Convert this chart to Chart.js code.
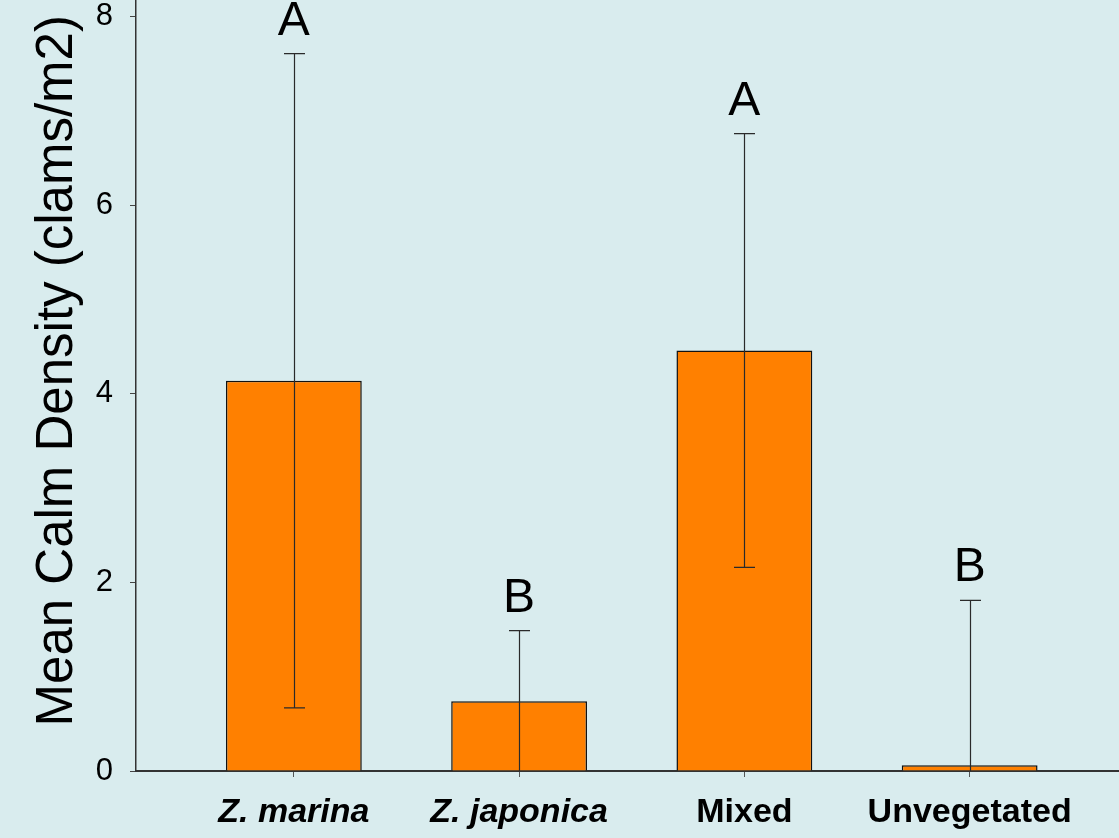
<!DOCTYPE html>
<html>
<head>
<meta charset="utf-8">
<title>Mean Calm Density</title>
<script src="https://cdn.jsdelivr.net/npm/chart.js@4/dist/chart.umd.min.js"></script>
<style>
  html, body { margin: 0; padding: 0; background: #d9ecee; overflow: hidden; }
  #wrap { width: 1119px; height: 838px; overflow: hidden; position: relative; }
  #chart { position: absolute; left: 0; top: -17px; }
</style>
</head>
<body>
<div id="wrap"><canvas id="chart" width="1119" height="855"></canvas></div>
<script>
// Habitat types along the x axis
const categories = ['Z. marina', 'Z. japonica', 'Mixed', 'Unvegetated'];
// Mean clam density per habitat (clams/m2)
const means = [4.14, 0.74, 4.46, 0.06];
// Error (± half-range) for each habitat
const errors = [3.47, 0.75, 2.30, 1.75];
// Significance groups printed above each bar
const groups = ['A', 'B', 'A', 'B'];
// Y-axis ticks
const yTicks = [0, 2, 4, 6, 8];

const FONT = '"Liberation Sans", Arial, Helvetica, sans-serif';
const BG = '#d9ecee';

const backgroundPlugin = {
  id: 'bg',
  beforeDraw(chart) {
    const ctx = chart.ctx;
    ctx.save();
    ctx.fillStyle = BG;
    ctx.fillRect(0, 0, chart.width, chart.height);
    ctx.restore();
  }
};

// Error bars, group letters and the rotated y-axis title
const errorPlugin = {
  id: 'errorBars',
  afterDatasetsDraw(chart) {
    const ctx = chart.ctx;
    const xs = chart.scales.x, ys = chart.scales.y;
    const capHalf = 10.5;
    ctx.save();
    ctx.strokeStyle = '#2a2a2a';
    ctx.lineWidth = 1.2;
    means.forEach((m, i) => {
      const x = Math.round(xs.getPixelForValue(i)) + 0.5;
      const hi = m + errors[i];
      const lo = Math.max(m - errors[i], 0);
      const yHi = ys.getPixelForValue(hi);
      const yLo = ys.getPixelForValue(lo);
      ctx.beginPath();
      ctx.moveTo(x, yHi);
      ctx.lineTo(x, yLo);
      ctx.moveTo(x - capHalf, yHi);
      ctx.lineTo(x + capHalf, yHi);
      if (m - errors[i] > 0) {
        ctx.moveTo(x - capHalf, yLo);
        ctx.lineTo(x + capHalf, yLo);
      }
      ctx.stroke();
    });
    ctx.fillStyle = '#000';
    ctx.font = '48px ' + FONT;
    ctx.textAlign = 'center';
    ctx.textBaseline = 'alphabetic';
    means.forEach((m, i) => {
      const x = xs.getPixelForValue(i);
      const yHi = ys.getPixelForValue(m + errors[i]);
      ctx.fillText(groups[i], x, yHi - 19);
    });
    ctx.restore();
  },
  afterDraw(chart) {
    const ctx = chart.ctx;
    const area = chart.chartArea;
    ctx.save();
    ctx.translate(72, area.top + 370);
    ctx.rotate(-Math.PI / 2);
    ctx.fillStyle = '#000';
    ctx.font = '51px ' + FONT;
    ctx.textAlign = 'center';
    ctx.textBaseline = 'alphabetic';
    ctx.fillText('Mean Calm Density (clams/m2)', 0, 0);
    ctx.restore();
  }
};

new Chart(document.getElementById('chart'), {
  type: 'bar',
  data: {
    datasets: [{
      data: categories.map((c, i) => ({ x: i, y: means[i] })),
      backgroundColor: '#ff8000',
      borderColor: '#111',
      borderWidth: 1.5,
      categoryPercentage: 1,
      barPercentage: 0.603
    }]
  },
  options: {
    responsive: false,
    animation: false,
    devicePixelRatio: 1,
    layout: { padding: { top: 0, right: 0, left: 0, bottom: 0 } },
    plugins: {
      legend: { display: false },
      tooltip: { enabled: false }
    },
    scales: {
      x: {
        type: 'linear',
        offset: false,
        min: -0.7007,
        max: 3.663,
        afterBuildTicks(scale) {
          scale.ticks = categories.map((c, i) => ({ value: i }));
        },
        afterFit(scale) { scale.height = 67; },
        grid: {
          offset: false,
          drawOnChartArea: false,
          drawTicks: true,
          tickLength: 6,
          color: '#555',
          lineWidth: 1
        },
        border: { color: '#333', width: 2 },
        ticks: {
          autoSkip: false,
          maxRotation: 0,
          minRotation: 0,
          padding: 15,
          color: '#000',
          callback: (v) => categories[v],
          font: (ctx) => ({
            family: FONT,
            size: 34,
            weight: 'bold',
            style: ctx.index < 2 ? 'italic' : 'normal'
          })
        }
      },
      y: {
        min: 0,
        max: 8.17,
        afterBuildTicks(scale) {
          scale.ticks = yTicks.map(v => ({ value: v }));
        },
        afterFit(scale) { scale.width = 136; },
        grid: {
          drawOnChartArea: false,
          drawTicks: true,
          tickLength: 6,
          color: '#444',
          lineWidth: 1
        },
        border: { color: '#333', width: 1.5 },
        ticks: {
          padding: 17,
          color: '#000',
          font: { family: FONT, size: 31, lineHeight: 0.05 }
        }
      }
    }
  },
  plugins: [backgroundPlugin, errorPlugin]
});
</script>
</body>
</html>
